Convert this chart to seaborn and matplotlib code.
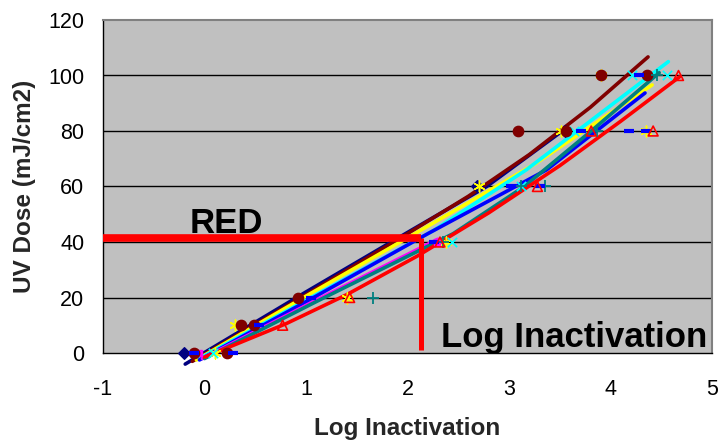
import matplotlib
matplotlib.use("Agg")
import matplotlib.pyplot as plt
import seaborn as sns
import pandas as pd

# ---------------- data ----------------
x_ticks = [-1, 0, 1, 2, 3, 4, 5]
y_ticks = [0, 20, 40, 60, 80, 100, 120]

navy_px = [-0.20, 2.68, 3.55]
navy_py = [0, 60, 80]
magenta_px = [-0.05, 2.29]
magenta_py = [0, 40]
yellow_px = [0.10, 0.30, 1.40, 2.38, 2.70, 3.51, 3.91, 4.35]
yellow_py = [0, 10, 20, 40, 60, 80, 100, 80]
cyan_px = [0.08, 2.44, 3.12, 3.64, 4.21, 4.56]
cyan_py = [0, 40, 60, 80, 100, 100]
maroon_px = [-0.10, 0.22, 0.36, 0.49, 0.92, 3.09, 3.56, 3.91, 4.36]
maroon_py = [0, 0, 10, 10, 20, 80, 80, 100, 100]
teal_px = [1.66, 2.35, 3.12, 3.35, 3.87, 4.46]
teal_py = [20, 40, 60, 60, 80, 100]
blue_px = [-0.10, 0.28, 0.54, 1.05, 2.26, 3.02, 3.31, 3.71, 4.18, 4.28, 4.35]
blue_py = [0, 0, 10, 20, 40, 60, 60, 80, 80, 100, 80]
red_px = [0.77, 1.43, 2.32, 3.28, 3.81, 4.42, 4.67]
red_py = [10, 20, 40, 60, 80, 80, 100]

# trend lines (vertices)
navy_lx = [-0.19, 1.0, 2.05, 2.78, 3.54]
navy_ly = [-4, 22, 44.5, 60, 80.4]
maroon_lx = [-0.12, 1.0, 2.0, 2.6, 3.2, 3.8, 4.37]
maroon_ly = [-3, 21, 43, 56.5, 71.5, 88.5, 106.7]
yellow_lx = [-0.08, 1.0, 2.12, 3.25, 4.41]
yellow_ly = [-2.5, 20.5, 44, 68, 96.6]
cyan_lx = [-0.05, 1.05, 2.25, 3.17, 4.57]
cyan_ly = [-2, 20, 44, 66, 105]
blue_lx = [-0.05, 1.05, 2.2, 3.37, 4.34]
blue_ly = [-2.5, 19.5, 43, 66, 93.7]
magenta_lx = [-0.02, 1.1, 2.3]
magenta_ly = [-2, 19, 41]
teal_lx = [0.0, 1.1, 2.45, 3.15, 3.81, 4.48]
teal_ly = [-2, 18.5, 43, 60, 80, 101]
red_lx = [0.0, 0.8, 1.4, 2.1, 2.8, 3.5, 4.1, 4.68]
red_ly = [-1.5, 10.5, 21, 35, 50.5, 67.5, 83.5, 99.5]

# RED annotation
red_dose = 41.5
red_log = 2.13
label_red = "RED"
label_log = "Log Inactivation"
xlabel = "Log Inactivation"
ylabel = "UV Dose (mJ/cm2)"

# ---------------- figure ----------------
sns.set_style("white")
plt.rcParams['font.family'] = ['Liberation Sans', 'DejaVu Sans']

fig = plt.figure(figsize=(7.18, 4.44), dpi=100)
ax = fig.add_axes([103/718, 1-353/444, (712-103)/718, (353-20)/444])
ax.set_facecolor('#c0c0c0')

lines = [
    (navy_lx, navy_ly, '#000080'),
    (maroon_lx, maroon_ly, '#800000'),
    (yellow_lx, yellow_ly, '#ffff00'),
    (cyan_lx, cyan_ly, '#00ffff'),
    (blue_lx, blue_ly, '#0000ff'),
    (magenta_lx, magenta_ly, '#ff00ff'),
    (teal_lx, teal_ly, '#008080'),
    (red_lx, red_ly, '#ff0000'),
]
for lx, ly, c in lines:
    df = pd.DataFrame({'x': lx, 'y': ly})
    sns.lineplot(data=df, x='x', y='y', ax=ax, color=c, lw=2.6,
                 sort=False, estimator=None, clip_on=False, zorder=3)

pts = [
    (navy_px, navy_py, '#000080', 'D', 35, '#000080', 1.0),
    (magenta_px, magenta_py, '#ff00ff', 's', 25, '#ff00ff', 1.0),
    (yellow_px, yellow_py, '#ffff00', (6, 2, 0), 60, '#ffff00', 1.1),
    (cyan_px, cyan_py, '#00ffff', 'x', 45, '#00ffff', 1.2),
    (maroon_px, maroon_py, '#800000', 'o', 55, '#800000', 1.0),
    (teal_px, teal_py, '#008080', '+', 70, '#008080', 1.3),
    (blue_px, blue_py, '#0000ff', '_', 45, '#0000ff', 3.0),
    (red_px, red_py, 'none', '^', 50, '#ff0000', 1.2),
]
for px, py, fc, m, s, ec, lw in pts:
    df = pd.DataFrame({'x': px, 'y': py})
    sns.scatterplot(data=df, x='x', y='y', ax=ax, marker=m, s=s,
                    facecolor=fc, edgecolor=ec, linewidth=lw, color=ec,
                    clip_on=False, zorder=4)

# RED annotation lines
ax.plot([-1, red_log], [red_dose, red_dose], color='#ff0000', lw=5.5,
        solid_capstyle='butt', zorder=5, clip_on=False)
ax.plot([red_log, red_log], [red_dose, 1.0], color='#ff0000', lw=3.6,
        solid_capstyle='butt', zorder=5, clip_on=False)

ax.text(-0.15, red_dose + 1.8, label_red, fontsize=25, fontweight='bold',
        color='black', ha='left', va='baseline', zorder=6)
ax.text(2.33, 2.0, label_log, fontsize=25, fontweight='bold',
        color='black', ha='left', va='baseline', zorder=6)

ax.set_xlim(-1, 5)
ax.set_ylim(0, 120)
ax.set_xticks(x_ticks)
ax.set_yticks(y_ticks)
ax.set_xticklabels([str(t) for t in x_ticks])
ax.set_yticklabels([str(t) for t in y_ticks])
ax.tick_params(axis='both', labelsize=15.5, colors='black', length=4.5, width=0.8, direction='out')
ax.tick_params(axis='x', pad=14.5)
ax.tick_params(axis='y', pad=9)
for yv in y_ticks[1:-1]:
    ax.axhline(yv, color='black', lw=1.0, zorder=1)

for side in ['left', 'bottom']:
    ax.spines[side].set_color('black')
    ax.spines[side].set_linewidth(1.0)
for side in ['top', 'right']:
    ax.spines[side].set_color('#808080')
    ax.spines[side].set_linewidth(1.5)

ax.set_xlabel(xlabel, fontsize=17.5, fontweight='bold', labelpad=12)
ax.set_ylabel(ylabel, fontsize=17.5, fontweight='bold', labelpad=9)

fig.savefig('out.png', dpi=100)
